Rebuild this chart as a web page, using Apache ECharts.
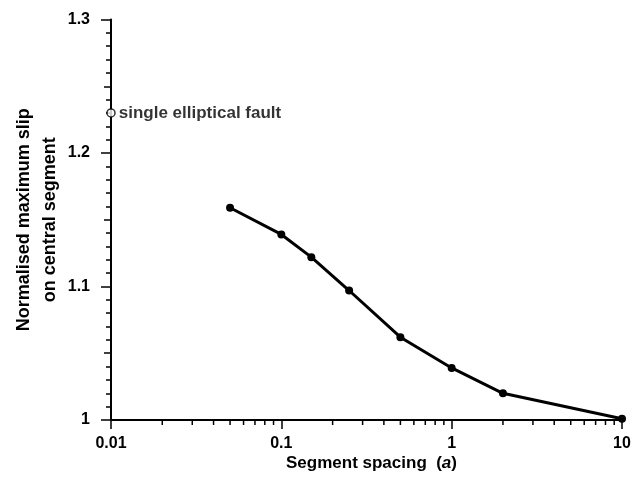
<!DOCTYPE html>
<html>
<head>
<meta charset="utf-8">
<script src="https://cdn.jsdelivr.net/npm/echarts@6/dist/echarts.min.js"></script>
<style>html,body{margin:0;padding:0;background:#fff}#c{width:636px;height:486px}</style>
</head>
<body>
<div id="c"></div>
<script>
// Data
const spacing = [0.05, 0.1, 0.15, 0.25, 0.5, 1, 2, 10];
const maxSlip = [1.159, 1.139, 1.122, 1.097, 1.062, 1.039, 1.020, 1.001];
const singleFaultX = [0.01];
const singleFaultY = [1.23];
const singleFaultLabel = 'single elliptical fault';
const xTickLabels = ['0.01', '0.1', '1', '10'];
const xMinorTicks = [0.02,0.03,0.04,0.05,0.06,0.07,0.08,0.09,
                     0.2,0.3,0.4,0.5,0.6,0.7,0.8,0.9,
                     2,3,4,5,6,7,8,9];
const yTickLabels = ['1', '1.1', '1.2', '1.3'];
const xTitle = 'Segment spacing  ({i|a})';
const yTitle = 'Normalised maximum slip\non central segment';

const FONT = '"Liberation Sans", Arial, Helvetica, sans-serif';
const chart = echarts.init(document.getElementById('c'), null, {renderer: 'canvas'});

function fmtX(v) {
  const s = xTickLabels.find(t => Math.abs(parseFloat(t) - v) < 1e-9 * Math.max(1, v));
  return s === undefined ? '' : s;
}
function fmtY(v) {
  const s = yTickLabels.find(t => Math.abs(parseFloat(t) - v) < 1e-6);
  return s === undefined ? '' : s;
}

chart.setOption({
  animation: false,
  backgroundColor: '#fff',
  grid: {left: 111, right: 14, top: 19.5, bottom: 66, containLabel: false, outerBoundsMode: 'none'},
  xAxis: [{
    type: 'log', logBase: 10, min: 0.01, max: 10,
    position: 'bottom',
    axisLine: {lineStyle: {color: '#000', width: 2}},
    axisTick: {show: true, inside: false, length: 9, lineStyle: {color: '#000', width: 1.5}},
    minorTick: {show: false},
    splitLine: {show: false},
    axisLabel: {color: '#000', fontFamily: FONT, fontWeight: 'bold', fontSize: 16, margin: 16, formatter: fmtX},
    name: xTitle, nameLocation: 'middle', nameGap: 35, nameMoveOverlap: false,
    nameTextStyle: {color: '#000', fontFamily: FONT, fontWeight: 'bold', fontSize: 17, padding: [0, 0, 0, 10],
      rich: {i: {fontStyle: 'italic', fontWeight: 'bold', fontFamily: FONT, fontSize: 17, color: '#000'}}}
  }],
  yAxis: [{
    type: 'value', min: 1, max: 1.3, interval: 0.1,
    position: 'left',
    axisLine: {lineStyle: {color: '#000', width: 2}},
    axisTick: {show: true, inside: false, length: 10, lineStyle: {color: '#000', width: 1.5}},
    minorTick: {show: true, splitNumber: 10, length: 5, lineStyle: {color: '#000', width: 1.5}},
    splitLine: {show: false},
    minorSplitLine: {show: false},
    axisLabel: {color: '#000', fontFamily: FONT, fontWeight: 'bold', fontSize: 16, margin: 21, formatter: fmtY},
    name: yTitle, nameLocation: 'middle', nameGap: 48, nameRotate: 90, nameMoveOverlap: false,
    nameTextStyle: {color: '#000', fontFamily: FONT, fontWeight: 'bold', fontSize: 18, lineHeight: 26, align: 'center'}
  }, {
    type: 'value', min: 1, max: 1.3, interval: 0.05,
    position: 'left',
    axisLine: {show: false},
    axisTick: {show: true, inside: false, length: 7, lineStyle: {color: '#000', width: 1.5}},
    axisLabel: {show: false},
    splitLine: {show: false}
  }],
  series: [{
    type: 'line',
    data: spacing.map((x, i) => [x, maxSlip[i]]),
    symbol: 'circle', symbolSize: 8,
    lineStyle: {color: '#000', width: 3},
    itemStyle: {color: '#000'},
    clip: false, z: 5
  }, {
    type: 'scatter',
    data: singleFaultX.map((x, i) => [x, singleFaultY[i]]),
    symbol: 'circle', symbolSize: 8,
    itemStyle: {color: '#fff', borderColor: '#000', borderWidth: 1.5},
    label: {show: true, position: 'right', distance: 3, formatter: singleFaultLabel,
      color: '#000', fontFamily: FONT, fontWeight: 'bold', fontSize: 17},
    clip: false, z: 6
  }, {
    type: 'custom',
    coordinateSystem: 'cartesian2d',
    data: xMinorTicks.map(x => [x, 1]),
    clip: false, silent: true, z: 4,
    renderItem: function (params, api) {
      const p = api.coord([api.value(0), api.value(1)]);
      return {type: 'line', shape: {x1: p[0], y1: p[1], x2: p[0], y2: p[1] + 5},
        style: {stroke: '#000', lineWidth: 1.5}};
    }
  }]
});
</script>
</body>
</html>
